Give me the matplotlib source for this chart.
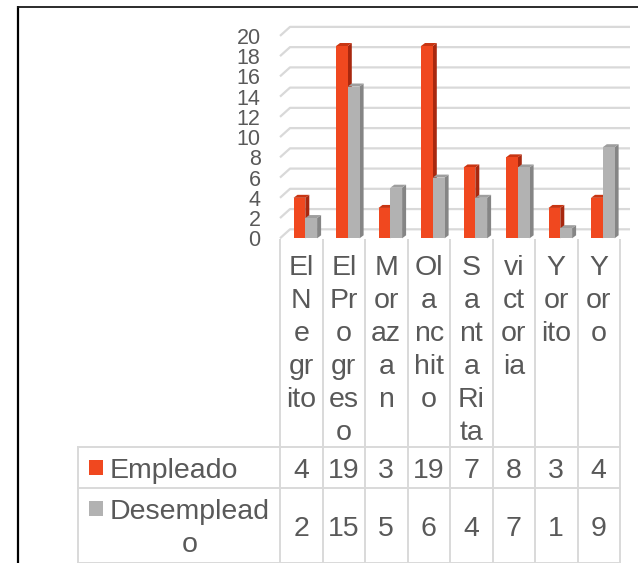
import matplotlib
matplotlib.use("Agg")
import matplotlib.pyplot as plt
from matplotlib.patches import Polygon, Rectangle
from matplotlib.font_manager import FontProperties
from matplotlib.textpath import TextToPath

# ---- data ----
categorias = ["El Negrito", "El Progreso", "Morazan", "Olanchito",
              "Santa Rita", "victoria", "Yorito", "Yoro"]
empleado = [4, 19, 3, 19, 7, 8, 3, 4]
desempleado = [2, 15, 5, 6, 4, 7, 1, 9]
series = ["Empleado", "Desempleado"]
y_ticks = list(range(0, 21, 2))

# ---- style ----
FONT = "Liberation Sans"
TXT = "#595959"
GRID = "#D9D9D9"
ROJO = ("#F0481F", "#A8280F", "#C83512")   # front, side, top
GRIS = ("#B2B2B2", "#858585", "#9E9E9E")
DPI = 100
W, H = 638, 563

# layout in pixels (from top-left)
PLOT_L, COL_W = 280, 42.5
Y0_PX, PX_PER_UNIT = 238.3, 10.12
TOP_PX = 20
TABLE_L = 78
ROW1_TOP, ROW2_TOP, TABLE_B = 447, 488, 563
BACK_DX, BACK_DY = 10, 9        # back wall offset (px)
BAR_DX, BAR_DY = 4, 3           # bar depth (px)

n = len(categorias)
t2p = TextToPath()


def text_w_px(s, size):
    fp = FontProperties(family=FONT, size=size)
    w, _, _ = t2p.get_text_width_height_descent(s, fp, ismath=False)
    return w * DPI / 72


def wrap(text, size, max_px):
    # excel-like wrap: break at spaces, break words by chars if needed
    lines, cur = [], ""
    for word in text.split(" "):
        cand = word if cur == "" else cur + " " + word
        if text_w_px(cand, size) <= max_px:
            cur = cand
            continue
        if cur:
            lines.append(cur)
        cur = ""
        for ch in word:
            if text_w_px(cur + ch, size) <= max_px or cur == "":
                cur += ch
            else:
                lines.append(cur)
                cur = ch
    if cur:
        lines.append(cur)
    return lines


fig = plt.figure(figsize=(W / DPI, H / DPI), dpi=DPI)

# overlay in pixel coords for table + frame
ov = fig.add_axes([0, 0, 1, 1])
ov.set_xlim(0, W)
ov.set_ylim(H, 0)
ov.axis("off")

# ---- chart ----
ax = fig.add_axes([PLOT_L / W, 1 - Y0_PX / H, n * COL_W / W, (Y0_PX - TOP_PX) / H])
ax.set_facecolor("none")
ax.set_xlim(0, n)
ax.set_ylim(0, (Y0_PX - TOP_PX) / PX_PER_UNIT)
for s in ax.spines.values():
    s.set_visible(False)
ax.set_xticks([])
ax.set_yticks(y_ticks)
ax.set_yticklabels([str(v) for v in y_ticks], fontfamily=FONT)
ax.tick_params(axis="y", length=0, pad=14, labelsize=15.5, labelcolor=TXT)

xu = 1 / COL_W
yu = 1 / PX_PER_UNIT
bdx, bdy = BACK_DX * xu, BACK_DY * yu
for v in y_ticks:
    ax.plot([0, bdx, n + bdx], [v, v + bdy, v + bdy], color=GRID, lw=1.6,
            clip_on=False, zorder=1, solid_capstyle="butt")


def bar3d(x0, w, h, cols):
    dx, dy = BAR_DX * xu, BAR_DY * yu
    x1 = x0 + w
    front = [(x0, 0), (x1, 0), (x1, h), (x0, h)]
    side = [(x1, 0), (x1 + dx, dy), (x1 + dx, h + dy), (x1, h)]
    top = [(x0, h), (x1, h), (x1 + dx, h + dy), (x0 + dx, h + dy)]
    for pts, c in zip((side, top, front), (cols[1], cols[2], cols[0])):
        ax.add_patch(Polygon(pts, closed=True, facecolor=c, edgecolor="none",
                             clip_on=False, zorder=3))


bw = 11.8 * xu
for i in range(n):
    bar3d(i + 13.5 * xu, bw, empleado[i], ROJO)
    bar3d(i + 13.5 * xu + bw, bw, desempleado[i], GRIS)

# ---- data table ----
lw_t = 1.4
for k in range(n + 1):
    x = PLOT_L + k * COL_W
    ov.plot([x, x], [240, TABLE_B], color=GRID, lw=lw_t)
for y in (ROW1_TOP, ROW2_TOP, TABLE_B - 0.5):
    ov.plot([TABLE_L, PLOT_L + n * COL_W], [y, y], color=GRID, lw=lw_t)
ov.plot([TABLE_L, TABLE_L], [ROW1_TOP, TABLE_B], color=GRID, lw=lw_t)

FS = 20.5
EM = FS * DPI / 72
LINE_H = 33
for i, cat in enumerate(categorias):
    cx = PLOT_L + (i + 0.5) * COL_W
    for j, ln in enumerate(wrap(cat, FS, 1.085 * EM)):
        ov.text(cx, 275 + j * LINE_H, ln, ha="center", va="baseline",
                fontsize=FS, color=TXT, fontfamily=FONT)

rows = [(empleado, ROJO[0], ROW1_TOP, ROW2_TOP),
        (desempleado, GRIS[0], ROW2_TOP, TABLE_B)]
for (vals, col, top, bot), name in zip(rows, series):
    lines = wrap(name, FS, PLOT_L - 110 - 6)
    mid = (top + bot) / 2
    first = mid - (len(lines) - 1) * LINE_H / 2
    ov.add_patch(Rectangle((89, first - 8), 14, 15, facecolor=col,
                           edgecolor="none"))
    w0 = text_w_px(lines[0], FS)
    for j, ln in enumerate(lines):
        ov.text(110 + w0 / 2, first + 10 + j * LINE_H, ln, ha="center",
                va="baseline", fontsize=FS, color=TXT, fontfamily=FONT)
    for i, v in enumerate(vals):
        ov.text(PLOT_L + (i + 0.5) * COL_W, mid + 10, str(v), ha="center",
                va="baseline", fontsize=FS, color=TXT, fontfamily=FONT)

# outer frame (left + top)
ov.plot([17.5, 17.5], [6, H], color="black", lw=1.6, solid_capstyle="butt")
ov.plot([17, W], [6.5, 6.5], color="#1a1a1a", lw=1.3, solid_capstyle="butt")

fig.savefig("out.png", dpi=DPI)
